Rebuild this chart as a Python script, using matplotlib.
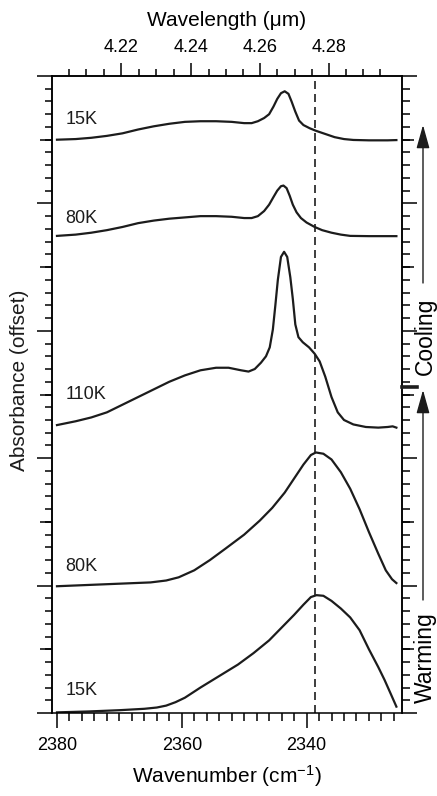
import numpy as np
import matplotlib
matplotlib.use("Agg")
import matplotlib.pyplot as plt
from matplotlib.ticker import FixedLocator, MultipleLocator, NullLocator
from matplotlib.lines import Line2D

plt.rcParams['font.family'] = ['Liberation Sans', 'DejaVu Sans']
plt.rcParams['mathtext.fontset'] = 'custom'
plt.rcParams['mathtext.rm'] = 'Liberation Sans'
plt.rcParams['mathtext.it'] = 'Liberation Sans:italic'

# spectra: wavenumber (cm-1) and offset absorbance
nu_15K_w = [2380.0, 2375.0, 2370.0, 2366.0, 2364.0, 2362.5, 2361.0, 2359.5, 2357.0, 2354.0,
            2351.0, 2348.5, 2346.0, 2344.0, 2342.0, 2340.5, 2339.3, 2338.4, 2337.3, 2336.0,
            2334.5, 2333.0, 2331.5, 2330.0, 2328.5, 2327.5, 2326.5, 2325.6]
ab_15K_w = [0.005, 0.012, 0.022, 0.033, 0.043, 0.058, 0.085, 0.12, 0.20, 0.29,
            0.38, 0.47, 0.57, 0.67, 0.77, 0.85, 0.91, 0.925, 0.92, 0.88,
            0.82, 0.75, 0.65, 0.50, 0.36, 0.26, 0.15, 0.05]

nu_80K_w = [2380.0, 2375.0, 2370.0, 2365.0, 2362.5, 2360.5, 2358.0, 2355.5, 2353.0, 2350.0,
            2347.5, 2345.5, 2343.5, 2342.0, 2340.5, 2339.3, 2338.5, 2337.3, 2336.0, 2334.5,
            2333.0, 2331.5, 2330.0, 2328.5, 2327.3, 2326.3, 2325.6]
ab_80K_w = [0.995, 1.005, 1.015, 1.025, 1.040, 1.065, 1.12, 1.20, 1.29, 1.40,
            1.51, 1.61, 1.73, 1.84, 1.95, 2.025, 2.045, 2.035, 1.99, 1.89,
            1.76, 1.60, 1.42, 1.25, 1.12, 1.05, 1.02]

nu_110K = [2380.0, 2377.0, 2374.5, 2372.0, 2369.5, 2367.0, 2364.5, 2362.0, 2359.5, 2357.0,
           2354.5, 2352.5, 2350.5, 2349.3, 2348.3, 2347.3, 2346.5, 2345.9, 2345.4, 2345.0,
           2344.6, 2344.1, 2343.6, 2343.1, 2342.6, 2342.2, 2341.8, 2341.3, 2340.6, 2339.6,
           2338.7, 2337.9, 2337.0, 2336.0, 2335.0, 2334.0, 2332.5, 2330.5, 2328.5, 2327.0,
           2326.2, 2325.6]
ab_110K = [2.26, 2.29, 2.32, 2.36, 2.42, 2.48, 2.54, 2.60, 2.65, 2.69,
           2.71, 2.71, 2.69, 2.68, 2.70, 2.75, 2.80, 2.87, 3.01, 3.20,
           3.40, 3.58, 3.62, 3.58, 3.42, 3.25, 3.05, 2.95, 2.91, 2.87,
           2.82, 2.76, 2.64, 2.48, 2.36, 2.30, 2.265, 2.245, 2.24, 2.245,
           2.25, 2.24]

nu_80K_c = [2380.0, 2377.0, 2374.5, 2372.0, 2369.5, 2367.0, 2364.5, 2362.0, 2359.5, 2357.0,
            2354.5, 2352.0, 2350.0, 2348.8, 2347.8, 2346.8, 2346.0, 2345.3, 2344.7, 2344.1,
            2343.7, 2343.2, 2342.7, 2342.2, 2341.6, 2340.9, 2340.0, 2338.7, 2337.5, 2336.0,
            2334.5, 2333.0, 2330.0, 2327.0, 2325.6]
ab_80K_c = [3.745, 3.755, 3.77, 3.79, 3.815, 3.845, 3.865, 3.88, 3.89, 3.90,
            3.90, 3.895, 3.885, 3.885, 3.90, 3.94, 3.99, 4.05, 4.10, 4.135,
            4.14, 4.12, 4.06, 3.99, 3.93, 3.885, 3.85, 3.815, 3.79, 3.77,
            3.755, 3.745, 3.743, 3.743, 3.743]

nu_15K_c = [2380.0, 2377.0, 2374.5, 2372.0, 2369.5, 2367.0, 2364.5, 2362.0, 2359.5, 2357.0,
            2354.5, 2352.0, 2350.0, 2348.8, 2347.8, 2346.8, 2346.0, 2345.3, 2344.7, 2344.1,
            2343.5, 2342.9, 2342.4, 2341.8, 2341.2, 2340.5, 2339.5, 2338.5, 2337.0, 2335.5,
            2334.0, 2332.5, 2330.0, 2327.0, 2325.6]
ab_15K_c = [4.50, 4.505, 4.515, 4.53, 4.55, 4.58, 4.605, 4.625, 4.64, 4.645,
            4.645, 4.64, 4.63, 4.63, 4.645, 4.67, 4.70, 4.76, 4.82, 4.865,
            4.88, 4.86, 4.80, 4.72, 4.65, 4.615, 4.59, 4.57, 4.545, 4.52,
            4.505, 4.498, 4.495, 4.495, 4.497]

spectra = [(nu_15K_w, ab_15K_w), (nu_80K_w, ab_80K_w), (nu_110K, ab_110K),
           (nu_80K_c, ab_80K_c), (nu_15K_c, ab_15K_c)]
temp_labels = ['15K', '80K', '110K', '80K', '15K']
label_y = [0.18, 1.15, 2.50, 3.885, 4.655]

nu_marker = 2338.7
wl_major = [4.22, 4.24, 4.26, 4.28]
wl_minor = [4.205, 4.21, 4.215, 4.225, 4.23, 4.235, 4.245, 4.25, 4.255,
            4.265, 4.27, 4.275, 4.285, 4.29, 4.295]

W, H = 437, 796
fx = lambda px: px / W
fy = lambda py: 1 - py / H

fig = plt.figure(figsize=(W / 100, H / 100), dpi=100)
ax = fig.add_axes([fx(52), fy(713), fx(402) - fx(52), fy(76) - fy(713)])

for (nu, ab) in spectra:
    ax.plot(nu, ab, color='#1c1c1c', lw=1.6)
for lab, yy in zip(temp_labels, label_y):
    ax.text(2378.6, yy, lab, fontsize=13, va='center', ha='left', color='#1c1c1c')

ax.axvline(nu_marker, color='#1c1c1c', lw=1.2, ls=(0, (4.8, 3.0)))

ax.set_xlim(2380.8, 2324.7)
ax.set_ylim(0, 5)

for s in ax.spines.values():
    s.set_linewidth(1.1)

ax.xaxis.set_major_locator(FixedLocator([2380, 2360, 2340]))
ax.xaxis.set_minor_locator(MultipleLocator(2))
ax.yaxis.set_major_locator(MultipleLocator(1))
ax.yaxis.set_minor_locator(MultipleLocator(0.1))
ax.tick_params(which='both', direction='out', top=False, right=True, width=1.1)
ax.tick_params(which='major', length=10.5)
ax.tick_params(which='minor', length=5.4)
ax.tick_params(axis='y', labelleft=False)
ax.tick_params(axis='x', labelsize=13, pad=7)
ax.set_xlabel('Wavenumber (cm$^{-1}$)', fontsize=15, labelpad=6)

# half-unit ticks, a bit shorter than the integer ones
for side in ['left', 'right']:
    sec = ax.secondary_yaxis(side)
    sec.set_yticks([0.5, 1.5, 2.5, 3.5, 4.5])
    sec.yaxis.set_minor_locator(NullLocator())
    sec.tick_params(length=8.6, width=1.1, direction='out', labelleft=False, labelright=False)
    sec.spines[side].set_linewidth(1.1)


def inv(x):
    x = np.asarray(x, dtype=float)
    with np.errstate(divide='ignore'):
        return 1e4 / x


top = ax.secondary_xaxis('top', functions=(inv, inv))
top.set_xticks(wl_major)
top.xaxis.set_minor_locator(FixedLocator(wl_minor))
top.tick_params(which='major', length=9.7, width=1.1, direction='out', labelsize=13, pad=5)
top.tick_params(which='minor', length=5.4, width=1.1, direction='out')
top.spines['top'].set_linewidth(1.1)
top.set_xlabel('Wavelength (\u03bcm)', fontsize=15, labelpad=9)

fig.text(fx(20), fy(380), 'Absorbance (offset)', rotation=90, fontsize=15,
         ha='center', va='center', color='#1c1c1c')

# cooling / warming arrows on the right
arr = dict(arrowstyle='-|>,head_length=1.0,head_width=0.28', color='#1c1c1c',
           lw=1.0, mutation_scale=14.4, shrinkA=0, shrinkB=0)
ax.annotate('', xy=(fx(423), fy(125)), xytext=(fx(423), fy(283)),
            xycoords='figure fraction', textcoords='figure fraction', arrowprops=arr)
ax.annotate('', xy=(fx(423), fy(390)), xytext=(fx(423), fy(600)),
            xycoords='figure fraction', textcoords='figure fraction', arrowprops=arr)
fig.text(fx(425), fy(336), 'Cooling', rotation=90, fontsize=16.5, ha='center', va='center')
fig.text(fx(425), fy(658), 'Warming', rotation=90, fontsize=16.5, ha='center', va='center')
fig.add_artist(Line2D([fx(402), fx(417)], [fy(387), fy(387)], lw=2.6, color='#1c1c1c'))

fig.savefig('out.png', dpi=100)
